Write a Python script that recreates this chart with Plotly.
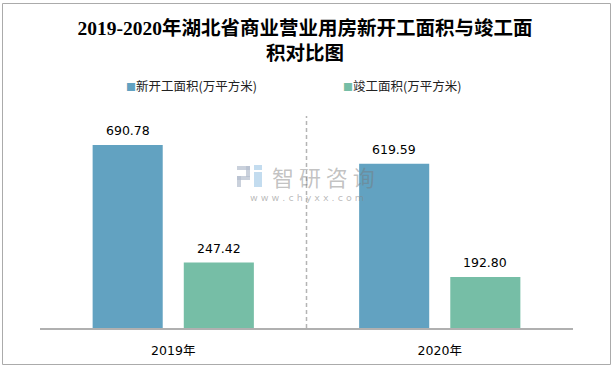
import plotly.graph_objects as go

# ---- data ----
categories = ["2019年", "2020年"]
series_names = ["新开工面积(万平方米)", "竣工面积(万平方米)"]
new_start = [690.78, 619.59]
completed = [247.42, 192.80]
series_values = [new_start, completed]
colors = ["#62a2c1", "#76bea6"]

W, H = 615, 370
ML, MR, MT, MB = 40, 42, 116, 42
PW, PH = W - ML - MR, H - MT - MB


def px_x(x):
    return (x - ML) / PW


def px_y(y):
    return (H - MB - y) / PH


fig = go.Figure()
for name, vals, col in zip(series_names, series_values, colors):
    fig.add_trace(go.Bar(x=categories, y=vals, name=name, marker=dict(color=col, line=dict(width=0)),
                         showlegend=False, hoverinfo="x+y"))

# value labels
offsets = [-45.5, 45.5]
annotations = []
for vals, off in zip(series_values, offsets):
    for c, v in zip(categories, vals):
        annotations.append(dict(x=c, y=v, xref="x", yref="y", text=f"{v:.2f}", showarrow=False,
                                xshift=off, yshift=14, xanchor="center", yanchor="middle",
                                font=dict(family="DejaVu Sans, Noto Sans CJK SC", size=12.5, color="#000")))

# legend (manual, small squares)
legend_x = [126, 343]
for name, col, lx in zip(series_names, colors, legend_x):
    annotations.append(dict(xref="paper", yref="paper", x=px_x(lx - 2), y=px_y(85), xanchor="left", yanchor="middle",
                            showarrow=False,
                            text=f"<span style='color:{col};font-size:10px'>■</span>{name}",
                            font=dict(family="Noto Sans CJK SC", size=12.5, color="#222")))

# watermark
annotations.append(dict(xref="paper", yref="paper", x=px_x(323), y=px_y(176), showarrow=False,
                        xanchor="center", yanchor="middle",
                        text="智 研 咨 询", font=dict(family="Noto Sans CJK SC", size=22, color="rgba(120,120,120,0.45)")))
annotations.append(dict(xref="paper", yref="paper", x=px_x(307), y=px_y(197), showarrow=False,
                        xanchor="center", yanchor="middle",
                        text="w w w . c h y x x . c o m",
                        font=dict(family="DejaVu Sans", size=9.5, color="rgba(130,130,130,0.55)")))

shapes = [
    # outer border
    dict(type="rect", xref="paper", yref="paper", x0=px_x(2.5), x1=px_x(610.5), y0=px_y(364.5), y1=px_y(3.5),
         line=dict(color="#ababab", width=1), fillcolor="rgba(0,0,0,0)", layer="below"),
    # category separator
    dict(type="line", xref="x", yref="paper", x0=0.5, x1=0.5, y0=0, y1=1,
         line=dict(color="#b4b4b4", width=1.5, dash="4px,3px")),
    # watermark logo (approximation)
    dict(type="rect", xref="paper", yref="paper", x0=px_x(237), x1=px_x(250), y0=px_y(170), y1=px_y(166),
         line=dict(width=0), fillcolor="rgba(180,190,205,0.7)"),
    dict(type="rect", xref="paper", yref="paper", x0=px_x(246), x1=px_x(250), y0=px_y(177), y1=px_y(166),
         line=dict(width=0), fillcolor="rgba(180,190,205,0.7)"),
    dict(type="rect", xref="paper", yref="paper", x0=px_x(237), x1=px_x(250), y0=px_y(180), y1=px_y(176),
         line=dict(width=0), fillcolor="rgba(180,190,205,0.7)"),
    dict(type="rect", xref="paper", yref="paper", x0=px_x(237), x1=px_x(241), y0=px_y(187), y1=px_y(176),
         line=dict(width=0), fillcolor="rgba(180,190,205,0.7)"),
    dict(type="rect", xref="paper", yref="paper", x0=px_x(254), x1=px_x(262), y0=px_y(187), y1=px_y(172),
         line=dict(width=0), fillcolor="rgba(170,205,232,0.7)"),
    dict(type="rect", xref="paper", yref="paper", x0=px_x(254), x1=px_x(262), y0=px_y(170), y1=px_y(165),
         line=dict(width=0), fillcolor="rgba(170,205,232,0.7)"),
]

fig.update_layout(
    width=W, height=H,
    margin=dict(l=ML, r=MR, t=MT, b=MB, pad=0),
    paper_bgcolor="white", plot_bgcolor="white",
    barmode="group", bargap=0.316, bargroupgap=0.231,
    title=dict(text="2019-2020年湖北省商业营业用房新开工面积与竣工面<br>积对比图",
               x=305 / W, xanchor="center", y=1 - 35 / H, yanchor="middle", yref="container",
               font=dict(family="Liberation Serif, Noto Sans CJK SC", size=19.5, color="#000", weight="bold")),
    xaxis=dict(showline=True, linecolor="#b0b0b0", linewidth=1.5, ticks="", showgrid=False,
               tickfont=dict(family="DejaVu Sans, Noto Sans CJK SC", size=12.5, color="#000"),
               ticklabelstandoff=10, fixedrange=True),
    yaxis=dict(visible=False, range=[0, 800], showgrid=False, zeroline=False, fixedrange=True),
    annotations=annotations,
    shapes=shapes,
    showlegend=False,
)

fig.write_html("out.html", config={"displayModeBar": False},
               post_script="document.body.style.margin='0';")
